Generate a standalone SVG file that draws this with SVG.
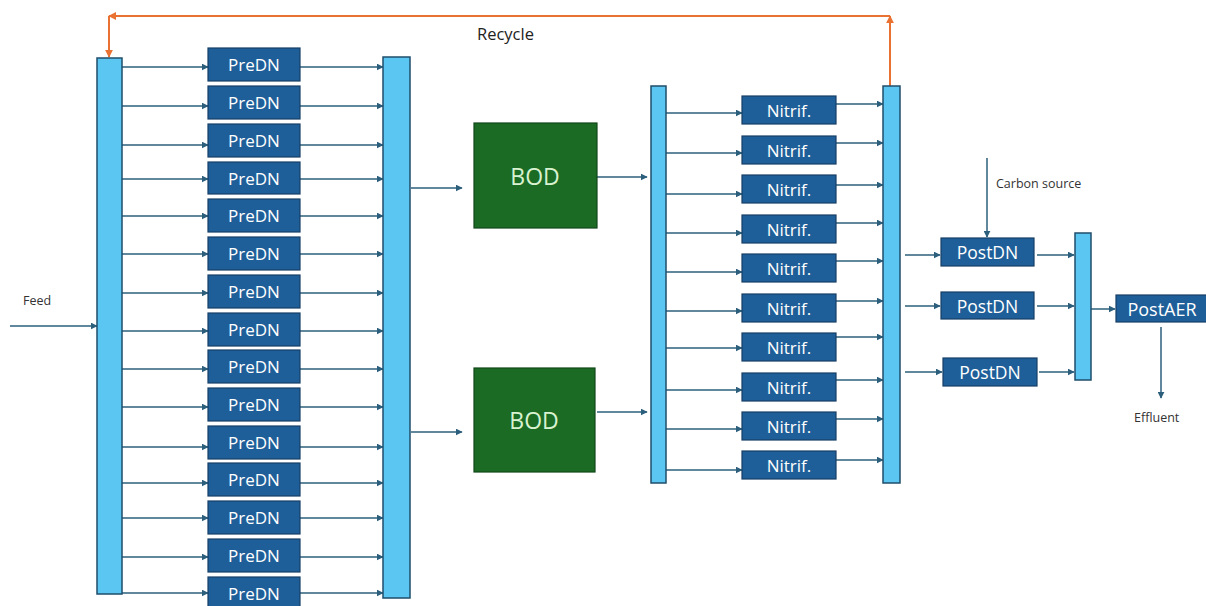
<svg xmlns="http://www.w3.org/2000/svg" width="1206" height="606" viewBox="0 0 1206 606">
<style>
.bar{fill:#5cc6f2;stroke:#1f4e6b;stroke-width:1.5}
.unit{fill:#1f5f99;stroke:#163f66;stroke-width:1.2}
.bod{fill:#1b6b25;stroke:#12461a;stroke-width:1.2}
.ut{font-family:"Open Sans","Liberation Sans",sans-serif;fill:#ffffff;text-anchor:middle;dominant-baseline:central}
.bt{font-family:"Open Sans","Liberation Sans",sans-serif;fill:#d9f2d0;font-size:23px;text-anchor:middle;dominant-baseline:central}
.lbl{font-family:"Open Sans","Liberation Sans",sans-serif;fill:#333333;font-size:12.5px;dominant-baseline:central}
.big{font-size:16.5px;fill:#222222}
.c line{stroke:#2c5f7c;stroke-width:1.5;fill:none;marker-end:url(#ah)}
.r line{stroke:#e97132;stroke-width:2;fill:none;marker-end:url(#ao)}
</style>
<defs>
<marker id="ah" viewBox="0 0 10 10" refX="9" refY="5" markerWidth="7" markerHeight="7" orient="auto" markerUnits="userSpaceOnUse"><path d="M0,0 L10,5 L0,10 z" fill="#2c5f7c"/></marker>
<marker id="ao" viewBox="0 0 10 10" refX="9" refY="5" markerWidth="8" markerHeight="8" orient="auto" markerUnits="userSpaceOnUse"><path d="M0,0 L10,5 L0,10 z" fill="#e97132"/></marker>
</defs>
<rect width="1206" height="606" fill="#ffffff"/>

<g id="connectors">
<g class="c">
<line x1="10" y1="326" x2="97" y2="326"/>
<line x1="122" y1="67" x2="208" y2="67"/>
<line x1="122" y1="106" x2="208" y2="106"/>
<line x1="122" y1="145" x2="208" y2="145"/>
<line x1="122" y1="179" x2="208" y2="179"/>
<line x1="122" y1="216" x2="208" y2="216"/>
<line x1="122" y1="254" x2="208" y2="254"/>
<line x1="122" y1="293" x2="208" y2="293"/>
<line x1="122" y1="331" x2="208" y2="331"/>
<line x1="122" y1="369" x2="208" y2="369"/>
<line x1="122" y1="407" x2="208" y2="407"/>
<line x1="122" y1="447" x2="208" y2="447"/>
<line x1="122" y1="483" x2="208" y2="483"/>
<line x1="122" y1="518" x2="208" y2="518"/>
<line x1="122" y1="557" x2="208" y2="557"/>
<line x1="122" y1="593" x2="208" y2="593"/>
<line x1="300" y1="67" x2="383" y2="67"/>
<line x1="300" y1="106" x2="383" y2="106"/>
<line x1="300" y1="145" x2="383" y2="145"/>
<line x1="300" y1="179" x2="383" y2="179"/>
<line x1="300" y1="216" x2="383" y2="216"/>
<line x1="300" y1="254" x2="383" y2="254"/>
<line x1="300" y1="293" x2="383" y2="293"/>
<line x1="300" y1="331" x2="383" y2="331"/>
<line x1="300" y1="369" x2="383" y2="369"/>
<line x1="300" y1="407" x2="383" y2="407"/>
<line x1="300" y1="447" x2="383" y2="447"/>
<line x1="300" y1="483" x2="383" y2="483"/>
<line x1="300" y1="518" x2="383" y2="518"/>
<line x1="300" y1="557" x2="383" y2="557"/>
<line x1="300" y1="593" x2="383" y2="593"/>
<line x1="411" y1="188" x2="462" y2="188"/>
<line x1="411" y1="432" x2="462" y2="432"/>
<line x1="597" y1="177" x2="647" y2="177"/>
<line x1="597" y1="412" x2="647" y2="412"/>
<line x1="666" y1="113" x2="742" y2="113"/>
<line x1="666" y1="153" x2="742" y2="153"/>
<line x1="666" y1="194" x2="742" y2="194"/>
<line x1="666" y1="233" x2="742" y2="233"/>
<line x1="666" y1="272" x2="742" y2="272"/>
<line x1="666" y1="311" x2="742" y2="311"/>
<line x1="666" y1="348" x2="742" y2="348"/>
<line x1="666" y1="390" x2="742" y2="390"/>
<line x1="666" y1="429" x2="742" y2="429"/>
<line x1="666" y1="470" x2="742" y2="470"/>
<line x1="836" y1="104" x2="883" y2="104"/>
<line x1="836" y1="143" x2="883" y2="143"/>
<line x1="836" y1="185" x2="883" y2="185"/>
<line x1="836" y1="223" x2="883" y2="223"/>
<line x1="836" y1="261" x2="883" y2="261"/>
<line x1="836" y1="301" x2="883" y2="301"/>
<line x1="836" y1="337" x2="883" y2="337"/>
<line x1="836" y1="380" x2="883" y2="380"/>
<line x1="836" y1="419" x2="883" y2="419"/>
<line x1="836" y1="460" x2="883" y2="460"/>
<line x1="905" y1="255" x2="940" y2="255"/>
<line x1="905" y1="306" x2="940" y2="306"/>
<line x1="905" y1="372" x2="942" y2="372"/>
<line x1="1037" y1="255" x2="1074" y2="255"/>
<line x1="1037" y1="306" x2="1074" y2="306"/>
<line x1="1039" y1="372" x2="1074" y2="372"/>
<line x1="1091" y1="309" x2="1115" y2="309"/>
<line x1="1161" y1="327" x2="1161" y2="398"/>
<line x1="987" y1="158" x2="987" y2="237"/>
</g>
<g class="r">
<line x1="890" y1="86" x2="890" y2="16"/>
<line x1="890" y1="16" x2="109" y2="16"/>
<line x1="109" y1="16" x2="109" y2="57"/>
</g>
</g>

<g id="bar-feed"><rect class="bar" x="97" y="58" width="25" height="536"/></g>
<g id="bar-predn-out"><rect class="bar" x="383" y="57" width="27" height="541"/></g>
<g id="bar-nitrif-in"><rect class="bar" x="651" y="86" width="15" height="397"/></g>
<g id="bar-nitrif-out"><rect class="bar" x="883" y="86" width="17" height="397"/></g>
<g id="bar-postdn-out"><rect class="bar" x="1075" y="233" width="16" height="147"/></g>

<g id="predn-1"><rect class="unit" x="208" y="48" width="92" height="33"/><text class="ut" x="254" y="64.5" font-size="17">PreDN</text></g>
<g id="predn-2"><rect class="unit" x="208" y="86" width="92" height="33"/><text class="ut" x="254" y="102.5" font-size="17">PreDN</text></g>
<g id="predn-3"><rect class="unit" x="208" y="124" width="92" height="33"/><text class="ut" x="254" y="140.5" font-size="17">PreDN</text></g>
<g id="predn-4"><rect class="unit" x="208" y="162" width="92" height="32"/><text class="ut" x="254" y="178" font-size="17">PreDN</text></g>
<g id="predn-5"><rect class="unit" x="208" y="199" width="92" height="33"/><text class="ut" x="254" y="215.5" font-size="17">PreDN</text></g>
<g id="predn-6"><rect class="unit" x="208" y="237" width="92" height="33"/><text class="ut" x="254" y="253.5" font-size="17">PreDN</text></g>
<g id="predn-7"><rect class="unit" x="208" y="275" width="92" height="33"/><text class="ut" x="254" y="291.5" font-size="17">PreDN</text></g>
<g id="predn-8"><rect class="unit" x="208" y="313" width="92" height="33"/><text class="ut" x="254" y="329.5" font-size="17">PreDN</text></g>
<g id="predn-9"><rect class="unit" x="208" y="350" width="92" height="33"/><text class="ut" x="254" y="366.5" font-size="17">PreDN</text></g>
<g id="predn-10"><rect class="unit" x="208" y="388" width="92" height="33"/><text class="ut" x="254" y="404.5" font-size="17">PreDN</text></g>
<g id="predn-11"><rect class="unit" x="208" y="426" width="92" height="33"/><text class="ut" x="254" y="442.5" font-size="17">PreDN</text></g>
<g id="predn-12"><rect class="unit" x="208" y="463" width="92" height="33"/><text class="ut" x="254" y="479.5" font-size="17">PreDN</text></g>
<g id="predn-13"><rect class="unit" x="208" y="501" width="92" height="33"/><text class="ut" x="254" y="517.5" font-size="17">PreDN</text></g>
<g id="predn-14"><rect class="unit" x="208" y="539" width="92" height="33"/><text class="ut" x="254" y="555.5" font-size="17">PreDN</text></g>
<g id="predn-15"><rect class="unit" x="208" y="577" width="92" height="33"/><text class="ut" x="254" y="593" font-size="17">PreDN</text></g>

<g id="bod-1"><rect class="bod" x="474" y="123" width="123" height="105"/><text class="bt" x="535" y="176">BOD</text></g>
<g id="bod-2"><rect class="bod" x="474" y="368" width="121" height="104"/><text class="bt" x="534" y="420">BOD</text></g>

<g id="nitrif-1"><rect class="unit" x="742" y="96" width="94" height="28"/><text class="ut" x="789" y="110" font-size="17">Nitrif.</text></g>
<g id="nitrif-2"><rect class="unit" x="742" y="136" width="94" height="28"/><text class="ut" x="789" y="150" font-size="17">Nitrif.</text></g>
<g id="nitrif-3"><rect class="unit" x="742" y="175" width="94" height="28"/><text class="ut" x="789" y="189" font-size="17">Nitrif.</text></g>
<g id="nitrif-4"><rect class="unit" x="742" y="215" width="94" height="28"/><text class="ut" x="789" y="229" font-size="17">Nitrif.</text></g>
<g id="nitrif-5"><rect class="unit" x="742" y="254" width="94" height="28"/><text class="ut" x="789" y="268" font-size="17">Nitrif.</text></g>
<g id="nitrif-6"><rect class="unit" x="742" y="294" width="94" height="28"/><text class="ut" x="789" y="308" font-size="17">Nitrif.</text></g>
<g id="nitrif-7"><rect class="unit" x="742" y="333" width="94" height="28"/><text class="ut" x="789" y="347" font-size="17">Nitrif.</text></g>
<g id="nitrif-8"><rect class="unit" x="742" y="373" width="94" height="28"/><text class="ut" x="789" y="387" font-size="17">Nitrif.</text></g>
<g id="nitrif-9"><rect class="unit" x="742" y="412" width="94" height="28"/><text class="ut" x="789" y="426" font-size="17">Nitrif.</text></g>
<g id="nitrif-10"><rect class="unit" x="742" y="451" width="94" height="28"/><text class="ut" x="789" y="465" font-size="17">Nitrif.</text></g>

<g id="postdn-1"><rect class="unit" x="941" y="238" width="93" height="28"/><text class="ut" x="987.5" y="252" font-size="17.5">PostDN</text></g>
<g id="postdn-2"><rect class="unit" x="941" y="292" width="93" height="27"/><text class="ut" x="987.5" y="305.5" font-size="17.5">PostDN</text></g>
<g id="postdn-3"><rect class="unit" x="943" y="358" width="94" height="28"/><text class="ut" x="990" y="372" font-size="17.5">PostDN</text></g>
<g id="postaer"><rect class="unit" x="1116" y="295" width="92" height="27"/><text class="ut" x="1162" y="308.5" font-size="18">PostAER</text></g>

<g id="labels">
<text class="lbl" x="23" y="300">Feed</text>
<text class="lbl" x="996" y="183">Carbon source</text>
<text class="lbl" x="1134" y="417">Effluent</text>
<text class="lbl big" x="477" y="33">Recycle</text>
</g>
</svg>
